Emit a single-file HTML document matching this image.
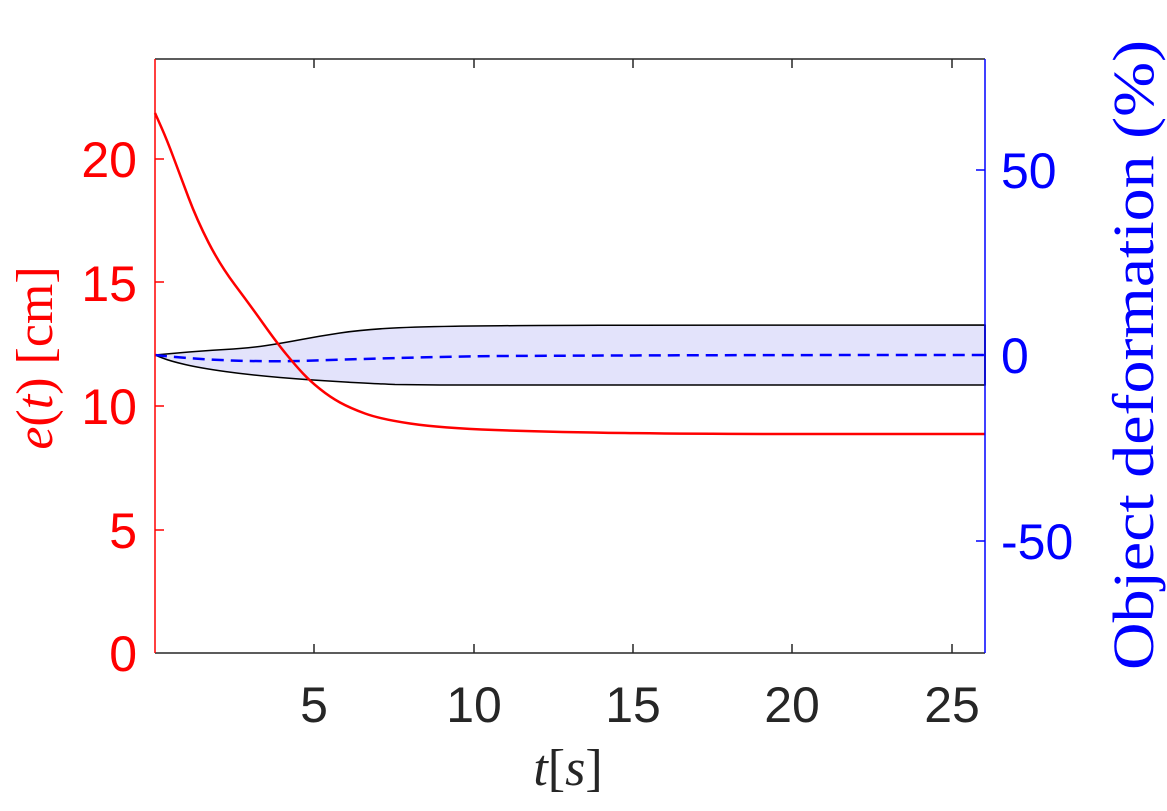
<!DOCTYPE html>
<html><head><style>html,body{margin:0;padding:0;background:#fff}svg{display:block}</style></head>
<body>
<svg width="1167" height="811" viewBox="0 0 1167 811" xmlns="http://www.w3.org/2000/svg">
<rect width="1167" height="811" fill="#fff"/>
<path d="M155,355 L177.5,353 Q200,351 225,349.5 Q250,348 266.5,345.5 Q283,343 301.5,339.5 Q320,336 340,333 Q360,330 385,328.5 Q410,327 455,326.3 Q500,325.5 600,325.3 L985,325 L985,385 L440,385 Q410,384.7 395,384.5 Q380,384 345,382 Q310,380 280,377.5 Q250,375 225,371.5 Q200,368 185,364.5 Q170,361 162.5,358 L155,355 Z" fill="#e3e3fb" stroke="#000" stroke-width="1.5"/>
<line x1="985" y1="325" x2="985" y2="385" stroke="#000" stroke-width="1.5"/>
<path d="M155,355 C200,360 250,362 300,361 C360,359 420,357 500,356 C700,355 850,355 985,355" fill="none" stroke="#0000ff" stroke-width="2.5" stroke-dasharray="12,7"/>
<path d="M155,113 L161,126.5 Q167,140 173.5,157.5 Q180,175 188.5,197.5 Q197,220 208.5,242.5 Q220,265 235,285 Q250,305 263.5,324 Q277,343 286.5,354.5 Q296,366 303,373.5 Q310,381 320,389 Q330,397 340,402.5 Q350,408 365,413.5 Q380,419 410,423.5 Q440,428 495,430 Q550,432 625,433 Q700,434 800,434 L985,434" fill="none" stroke="#ff0000" stroke-width="2.5"/>
<line x1="155" y1="59" x2="985" y2="59" stroke="#262626" stroke-width="1.5"/>
<line x1="155" y1="653" x2="985" y2="653" stroke="#262626" stroke-width="1.5"/>
<line x1="155" y1="59" x2="155" y2="653" stroke="#ff0000" stroke-width="1.5"/>
<line x1="985" y1="59" x2="985" y2="653" stroke="#0000ff" stroke-width="1.5"/>
<g stroke="#262626" stroke-width="1.5">
<line x1="314" y1="653" x2="314" y2="644"/><line x1="474" y1="653" x2="474" y2="644"/><line x1="633" y1="653" x2="633" y2="644"/><line x1="792" y1="653" x2="792" y2="644"/><line x1="952" y1="653" x2="952" y2="644"/>
<line x1="314" y1="59" x2="314" y2="68"/><line x1="474" y1="59" x2="474" y2="68"/><line x1="633" y1="59" x2="633" y2="68"/><line x1="792" y1="59" x2="792" y2="68"/><line x1="952" y1="59" x2="952" y2="68"/>
</g>
<g stroke="#ff0000" stroke-width="1.5">
<line x1="155" y1="530" x2="164" y2="530"/><line x1="155" y1="406" x2="164" y2="406"/><line x1="155" y1="282" x2="164" y2="282"/><line x1="155" y1="159" x2="164" y2="159"/>
</g>
<g stroke="#0000ff" stroke-width="1.5">
<line x1="985" y1="170" x2="976" y2="170"/><line x1="985" y1="355" x2="976" y2="355"/><line x1="985" y1="541" x2="976" y2="541"/>
</g>
<g font-family="Liberation Sans, sans-serif" font-size="50" fill="#ff0000" text-anchor="end">
<text x="137" y="671">0</text><text x="137" y="548">5</text><text x="137" y="424">10</text><text x="137" y="301">15</text><text x="137" y="177">20</text>
</g>
<g font-family="Liberation Sans, sans-serif" font-size="50" fill="#262626" text-anchor="middle">
<text x="314" y="722">5</text><text x="474" y="722">10</text><text x="633" y="722">15</text><text x="792" y="722">20</text><text x="952" y="722">25</text>
</g>
<g font-family="Liberation Sans, sans-serif" font-size="50" fill="#0000ff" text-anchor="start">
<text x="1001" y="188">50</text><text x="1001" y="373">0</text><text x="1001" y="559">-50</text>
</g>
<text x="568" y="785" font-family="Liberation Serif, serif" font-size="52" fill="#262626" text-anchor="middle"><tspan font-style="italic">t</tspan>[<tspan font-style="italic">s</tspan>]</text>
<text transform="translate(52,358) rotate(-90)" font-family="Liberation Serif, serif" font-size="52" fill="#ff0000" text-anchor="middle"><tspan font-style="italic">e</tspan>(<tspan font-style="italic">t</tspan>) [cm]</text>
<text transform="translate(1153,355) rotate(-90)" font-family="Liberation Serif, serif" font-size="58" fill="#0000ff" text-anchor="middle" textLength="630" lengthAdjust="spacingAndGlyphs">Object deformation (%)</text>
</svg>
</body></html>
